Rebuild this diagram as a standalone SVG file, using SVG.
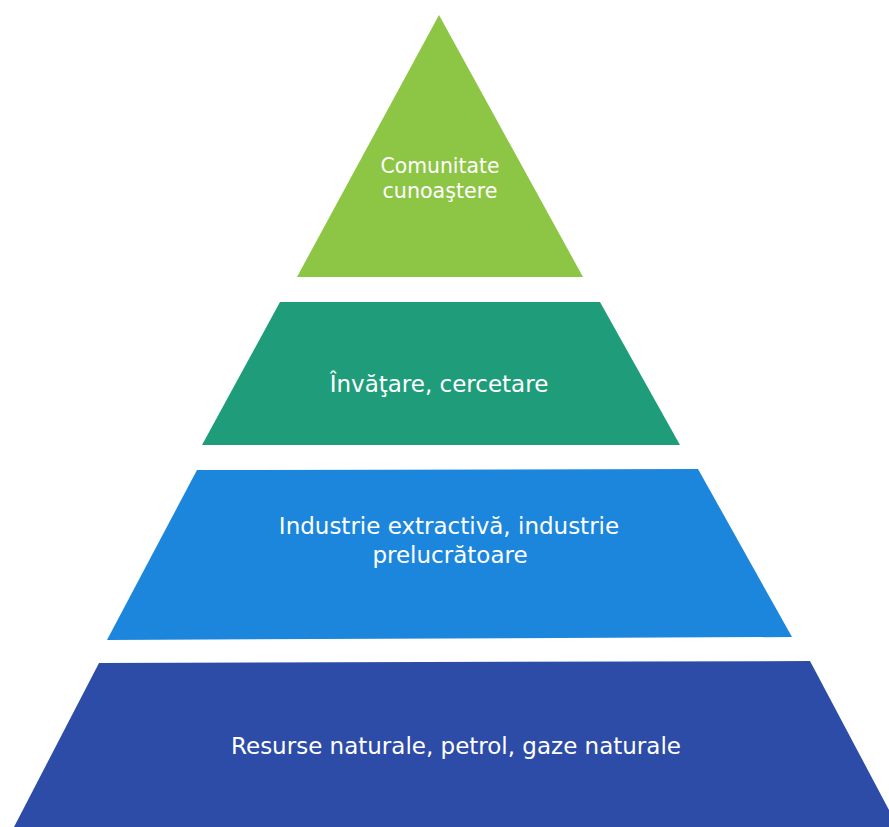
<svg xmlns="http://www.w3.org/2000/svg" width="889" height="827" viewBox="0 0 889 827">
<style>
.lbl{font-family:"DejaVu Sans","Open Sans",sans-serif;font-size:23px;fill:#ffffff;text-anchor:middle}
.sm{font-size:22px}
</style>
<rect width="889" height="827" fill="#ffffff"/>
<g id="tier1">
<polygon points="439,15 583,277 297,277" fill="#8dc545"/>
<text class="lbl sm" x="440" y="173" textLength="119" lengthAdjust="spacingAndGlyphs">Comunitate</text>
<text class="lbl sm" x="440" y="198" textLength="115" lengthAdjust="spacingAndGlyphs">cunoaştere</text>
</g>
<g id="tier2">
<polygon points="280,302 600,302 680,445 202,445" fill="#1f9d7a"/>
<text class="lbl" x="439" y="392">Învăţare, cercetare</text>
</g>
<g id="tier3">
<polygon points="197,470 698,469 792,637 107,640" fill="#1c86dd"/>
<text class="lbl" x="449" y="534">Industrie extractivă, industrie</text>
<text class="lbl" x="450" y="563">prelucrătoare</text>
</g>
<g id="tier4">
<polygon points="99,663 810,661 898,827 14,827" fill="#2d4ca8"/>
<text class="lbl" x="456" y="754">Resurse naturale, petrol, gaze naturale</text>
</g>
<g id="connectors"></g>
</svg>
